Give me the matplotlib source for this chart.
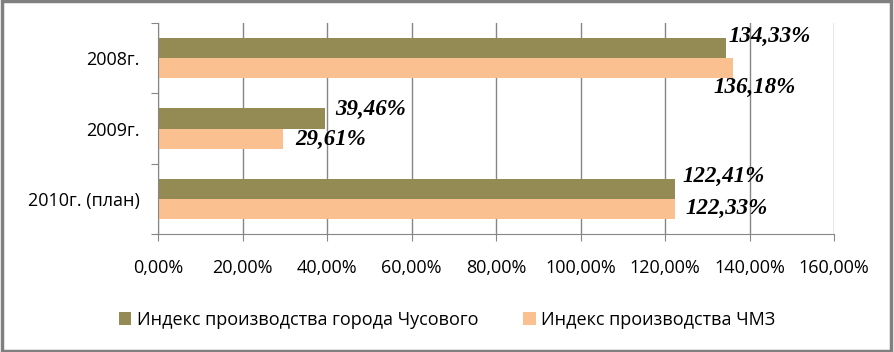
import matplotlib.pyplot as plt
from matplotlib.patches import Rectangle
from matplotlib.ticker import MultipleLocator, FuncFormatter

# data
categories = ["2008г.", "2009г.", "2010г. (план)"]
city_index = [134.33, 39.46, 122.41]
chmz_index = [136.18, 29.61, 122.33]
series_names = ["Индекс производства города Чусового", "Индекс производства ЧМЗ"]

# label offsets in pixels (dx from bar end, dy from bar centre), hand placed like in Excel
city_offsets = [(3, 12), (10, 9), (7, 12)]
chmz_offsets = [(-20, -19), (12, -1), (11, 0)]

OLIVE = "#948A54"
PEACH = "#FAC090"
GRID = "#868686"

plt.rcParams["font.family"] = ["Open Sans", "DejaVu Sans"]

fig = plt.figure(figsize=(8.94, 3.52), dpi=100)
ax = fig.add_axes([158 / 894, 1 - 234 / 352, 676 / 894, 211 / 352])

bar_h = 20 / 70
pos = list(range(len(categories)))
y_city = [p - bar_h / 2 for p in pos]
y_chmz = [p + bar_h / 2 for p in pos]

ax.barh(y_city, city_index, height=bar_h, color=OLIVE, label=series_names[0], zorder=2)
ax.barh(y_chmz, chmz_index, height=bar_h, color=PEACH, label=series_names[1], zorder=2)

label_font = dict(family="Liberation Serif", weight="bold", style="italic", size=16.5)
for y, v, (dx, dy) in zip(y_city, city_index, city_offsets):
    ax.annotate(f"{v:.2f}%".replace(".", ","), (v, y), xytext=(dx, dy),
                textcoords="offset pixels", ha="left", va="center", **label_font)
for y, v, (dx, dy) in zip(y_chmz, chmz_index, chmz_offsets):
    ax.annotate(f"{v:.2f}%".replace(".", ","), (v, y), xytext=(dx, dy),
                textcoords="offset pixels", ha="left", va="center", **label_font)

ax.set_xlim(0, 160)
ax.set_ylim(len(categories) - 0.5, -0.5)
ax.xaxis.set_major_locator(MultipleLocator(20))
ax.xaxis.set_major_formatter(FuncFormatter(lambda v, _: f"{v:.2f}%".replace(".", ",")))
ax.set_yticks([p - 0.5 for p in range(len(categories) + 1)])
ax.set_yticklabels([])
ax.set_yticks(pos, minor=True)
ax.set_yticklabels(categories, minor=True)
ax.tick_params(axis="y", which="minor", length=0, pad=13, labelsize=13)
ax.tick_params(axis="y", which="major", length=5, color=GRID, direction="out")
ax.tick_params(axis="x", length=5, color=GRID, direction="out", pad=13, labelsize=13)

ax.grid(axis="x", color=GRID, linewidth=1, zorder=0)
for side in ("top", "right"):
    ax.spines[side].set_visible(False)
for side in ("left", "bottom"):
    ax.spines[side].set_color(GRID)

ax.legend(loc="center", bbox_to_anchor=(0.5, 1 - 320 / 352),
          bbox_transform=fig.transFigure, ncol=2, frameon=False, fontsize=13,
          handlelength=0.7, handleheight=0.7, columnspacing=2.5, handletextpad=0.3)

fig.patches.append(Rectangle((0.002, 0.003), 0.995, 0.994, transform=fig.transFigure,
                             fill=False, edgecolor="#808080", linewidth=2.5))

fig.savefig("out.png", dpi=100)
